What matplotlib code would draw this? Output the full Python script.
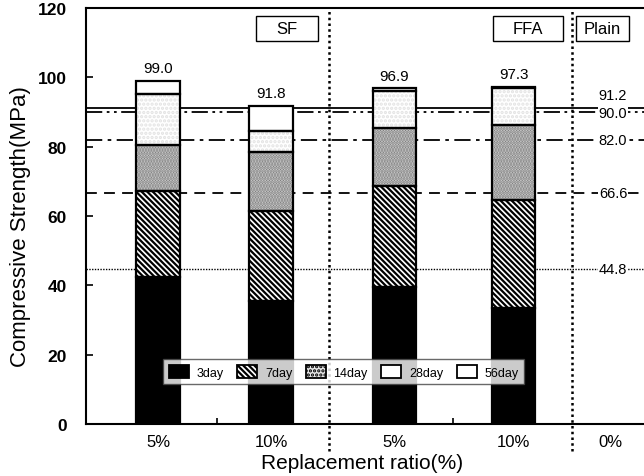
import matplotlib
matplotlib.use("Agg")
import matplotlib.pyplot as plt
import matplotlib.patches as mpatches
import numpy as np

plt.rcParams['font.family'] = ['Liberation Sans', 'DejaVu Sans']
plt.rcParams['hatch.linewidth'] = 1.6

# ---------------- data ----------------
group_names = ['SF', 'FFA', 'Plain']
ratio_labels = ['5%', '10%', '5%', '10%', '0%']
age_labels = ['3day', '7day', '14day', '28day', '56day']
# compressive strength (MPa) reached at each age, per mix (SF5, SF10, FFA5, FFA10)
str_3day = [42.3, 35.6, 39.4, 33.4]
str_7day = [67.3, 61.5, 68.6, 64.6]
str_14day = [80.6, 78.5, 85.3, 86.2]
str_28day = [95.2, 84.4, 96.1, 96.8]
str_56day = [99.0, 91.8, 96.9, 97.3]
top_labels = ['99.0', '91.8', '96.9', '97.3']
# plain concrete (0%) reference strengths: 3, 7, 14, 28, 56 days
plain_strength = [44.8, 66.6, 82.0, 90.0, 91.2]

# ---------------- layout ----------------
bar_pos = [1.0, 1.958, 3.004, 4.013]
plain_pos = 4.83
bar_w = 0.37
divider_pos = [2.449, 4.508]

fig = plt.figure(figsize=(6.44, 4.77), dpi=100)
ax = fig.add_axes([86/644, 52/477, 558/644, 416/477])
ax.set_xlim(1 - 72/118, 1 + 486/118)
ax.set_ylim(0, 120)

# reference lines for plain concrete
line_styles = [(0, (1, 1)), (0, (6, 4)), (0, (9, 3, 2, 3)), (0, (9, 2.5, 1.5, 2.5, 1.5, 2.5)), '-']
line_widths = [1.0, 1.3, 1.3, 1.3, 1.3]
for val, ls, lw in zip(plain_strength, line_styles, line_widths):
    ax.axhline(val, color='k', ls=ls, lw=lw, zorder=1)

label_offsets = [0, 0, 0, -0.4, 3.6]
for val, off in zip(plain_strength, label_offsets):
    ax.text(4.856, val + off, f'{val:.1f}', ha='center', va='center', fontsize=10.5,
            zorder=3, bbox=dict(facecolor='white', edgecolor='none', pad=0.6))

# stacked bars
levels = [str_3day, str_7day, str_14day, str_28day, str_56day]
face = ['black', 'white', '#dcdcdc', 'white', 'white']
hatches = [None, '\\' * 6, '......', '....', None]
hatch_col = ['black', 'black', '#7a7a7a', '#e2e2e2', 'white']
prev = np.zeros(4)
for lev, fc, h, hc in zip(levels, face, hatches, hatch_col):
    lev = np.array(lev)
    ax.bar(bar_pos, lev - prev, bottom=prev, width=bar_w, color=fc, hatch=h,
           edgecolor=hc, linewidth=0, zorder=2)
    ax.bar(bar_pos, lev - prev, bottom=prev, width=bar_w, fill=False,
           edgecolor='black', linewidth=1.6, zorder=2.5)
    prev = lev

for x, top, lab in zip(bar_pos, str_56day, top_labels):
    ax.text(x, top + 1.6, lab, ha='center', va='bottom', fontsize=11)

# vertical dividers
for xd in divider_pos:
    ax.plot([xd, xd], [-7.8, 120], color='black', ls=(0, (1, 1.3)), lw=1.8,
            clip_on=False, zorder=3)

# group boxes
box_x = [(1.831, 2.356), (3.839, 4.432), (4.542, 4.992)]
for name, (x0, x1) in zip(group_names, box_x):
    ax.add_patch(mpatches.Rectangle((x0, 110.6), x1 - x0, 7.2, facecolor='white',
                                    edgecolor='black', lw=1.0, zorder=3))
    ax.text((x0 + x1) / 2, 114.2, name, ha='center', va='center', fontsize=12, zorder=4)

# axes styling
ax.spines['right'].set_visible(False)
for s in ['left', 'bottom', 'top']:
    ax.spines[s].set_linewidth(1.5)
ax.set_yticks(np.arange(0, 121, 20))
ax.tick_params(axis='y', direction='in', length=5, width=1.2, pad=14, labelsize=12.5)
for t in ax.get_yticklabels():
    t.set_fontweight('bold')
ax.set_xticks(bar_pos + [plain_pos])
ax.set_xticklabels(ratio_labels)
ax.tick_params(axis='x', which='major', length=0, pad=7, labelsize=12)
ax.set_xticks([1.5, 3.5], minor=True)
ax.tick_params(axis='x', which='minor', direction='in', length=4, width=1.2)

ax.set_ylabel('Compressive Strength(MPa)', fontsize=16)
ax.yaxis.set_label_coords(-0.098, 0.478)
ax.set_xlabel('Replacement ratio(%)', fontsize=15)
ax.xaxis.set_label_coords(0.495, -0.070)

# legend
legend_face = ['black', 'white', '#e6e6e6', 'white', 'white']
legend_hatch = [None, '\\' * 6, '....', None, None]
handles = []
for fc, h in zip(legend_face, legend_hatch):
    p = mpatches.Patch(facecolor=fc, hatch=h, edgecolor='black', linewidth=1.3)
    handles.append(p)
leg = ax.legend(handles, age_labels, loc='center', bbox_to_anchor=(0.462, 0.126), ncol=5,
                fontsize=9, frameon=True, fancybox=False, handlelength=1.6, handleheight=1.3,
                handletextpad=0.6, columnspacing=1.1, borderpad=0.45, borderaxespad=0)
leg.get_frame().set_edgecolor('#444444')
leg.get_frame().set_linewidth(1.0)
leg.set_zorder(5)

fig.savefig('out.png', dpi=100)
